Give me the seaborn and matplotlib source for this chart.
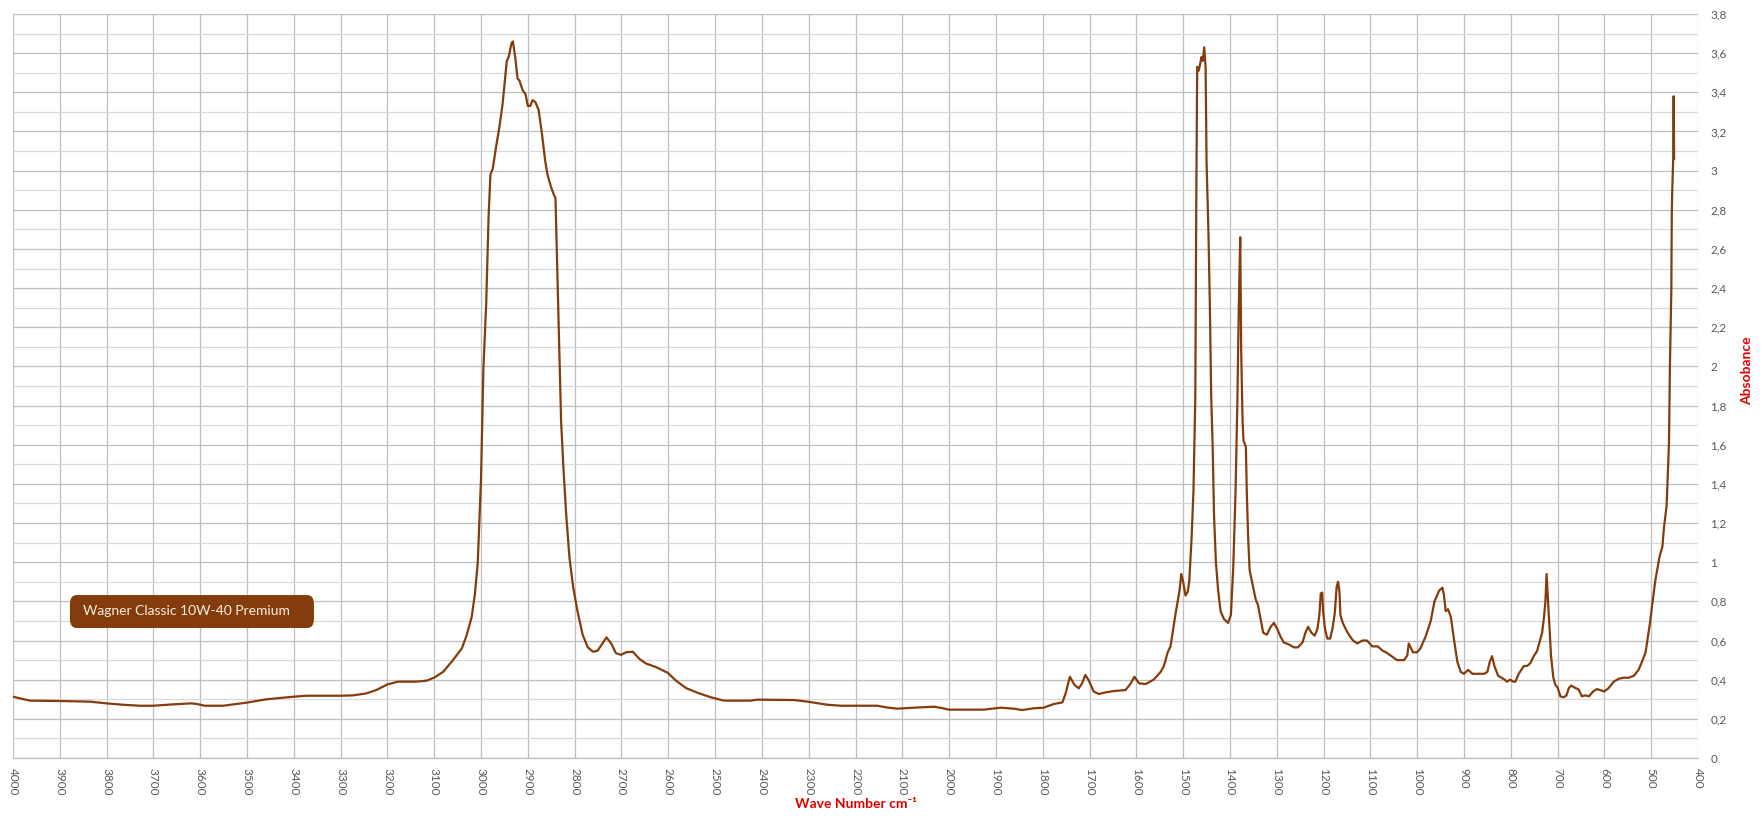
'''
IR absorbance spectrum of an engine oil, drawn Excel-style with seaborn.
'''

import numpy as np
import pandas as pd
import seaborn as sns
import matplotlib.pyplot as plt
from matplotlib.patches import FancyBboxPatch
from matplotlib.ticker import MultipleLocator, FuncFormatter

# Spectrum values (wave number in cm-1, absorbance)
wave_number = [
    4000, 3986, 3964, 3900, 3836, 3800, 3765, 3729, 3700, 3658, 3619, 3608,
    3590, 3551, 3500, 3458, 3401, 3373, 3301, 3273, 3245, 3224, 3200, 3177,
    3138, 3116, 3099, 3081, 3060, 3041, 3031, 3020, 3013, 3007, 3000, 2995,
    2989, 2984, 2980, 2975, 2968, 2961, 2954, 2945, 2941, 2935, 2932, 2927,
    2922, 2918, 2911, 2905, 2900, 2895, 2890, 2884, 2877, 2870, 2863, 2858,
    2851, 2845, 2841, 2838, 2834, 2829, 2824, 2818, 2811, 2803, 2794, 2783,
    2772, 2761, 2751, 2742, 2732, 2722, 2712, 2701, 2690, 2676, 2662, 2648,
    2626, 2601, 2584, 2562, 2534, 2509, 2481, 2424, 2410, 2331, 2303, 2260,
    2232, 2153, 2136, 2111, 2075, 2032, 2015, 2001, 1926, 1890, 1862, 1844,
    1819, 1798, 1776, 1758, 1751, 1742, 1732, 1723, 1716, 1709, 1702, 1691,
    1680, 1666, 1648, 1623, 1612, 1604, 1594, 1580, 1563, 1548, 1541, 1533,
    1527, 1516, 1508, 1504, 1500, 1495, 1490, 1487, 1482, 1478, 1474, 1472,
    1470, 1467, 1464, 1461, 1458, 1455, 1452, 1450, 1446, 1443, 1440, 1437,
    1434, 1430, 1425, 1420, 1413, 1404, 1398, 1393, 1388, 1384, 1381, 1378,
    1376, 1373, 1371, 1366, 1364, 1361, 1358, 1352, 1345, 1340, 1334, 1329,
    1321, 1313, 1306, 1299, 1292, 1285, 1274, 1263, 1255, 1245, 1238, 1233,
    1226, 1219, 1213, 1209, 1206, 1203, 1201, 1197, 1192, 1186, 1181, 1176,
    1172, 1169, 1166, 1164, 1159, 1153, 1146, 1137, 1128, 1117, 1107, 1096,
    1084, 1075, 1064, 1053, 1043, 1028, 1021, 1018, 1014, 1009, 1000, 993,
    982, 971, 963, 953, 946, 943, 939, 934, 928, 921, 914, 907,
    900, 891, 882, 857, 850, 845, 840, 835, 827, 813, 808, 801,
    795, 790, 783, 772, 765, 758, 751, 744, 737, 733, 729, 726,
    723.5, 719, 714, 709, 705, 700, 694, 687, 681, 676, 671, 664,
    655, 648, 641, 633, 624, 616, 607, 600, 591, 580, 569, 559,
    548, 537, 527, 520, 512, 507, 502, 498, 491, 482, 476, 473,
    467, 462, 460, 457, 456, 455, 453, 452, 451,
]
absorbance = [
    0.313, 0.305, 0.293, 0.291, 0.288, 0.279, 0.272, 0.267, 0.267, 0.274, 0.279, 0.276,
    0.267, 0.267, 0.283, 0.300, 0.313, 0.318, 0.318, 0.320, 0.330, 0.347, 0.376, 0.390,
    0.390, 0.395, 0.412, 0.440, 0.500, 0.560, 0.625, 0.720, 0.840, 1.000, 1.430, 1.990,
    2.320, 2.760, 2.980, 3.010, 3.120, 3.220, 3.340, 3.560, 3.580, 3.650, 3.660, 3.580,
    3.470, 3.460, 3.410, 3.390, 3.330, 3.330, 3.360, 3.350, 3.310, 3.190, 3.050, 2.980,
    2.920, 2.880, 2.860, 2.570, 2.200, 1.720, 1.480, 1.240, 1.020, 0.870, 0.750, 0.630,
    0.565, 0.543, 0.548, 0.580, 0.616, 0.585, 0.536, 0.527, 0.540, 0.543, 0.507, 0.483,
    0.464, 0.435, 0.396, 0.357, 0.330, 0.310, 0.293, 0.293, 0.298, 0.296, 0.288, 0.272,
    0.267, 0.267, 0.259, 0.252, 0.257, 0.262, 0.255, 0.247, 0.247, 0.257, 0.252, 0.245,
    0.254, 0.257, 0.276, 0.284, 0.330, 0.415, 0.373, 0.356, 0.381, 0.424, 0.398, 0.339,
    0.327, 0.335, 0.342, 0.347, 0.381, 0.415, 0.381, 0.378, 0.400, 0.440, 0.470, 0.540,
    0.570, 0.740, 0.850, 0.940, 0.900, 0.830, 0.850, 0.900, 1.120, 1.360, 1.840, 2.810,
    3.530, 3.510, 3.540, 3.580, 3.560, 3.630, 3.530, 3.050, 2.690, 2.320, 1.840, 1.600,
    1.240, 1.000, 0.850, 0.750, 0.710, 0.690, 0.730, 0.970, 1.360, 1.840, 2.320, 2.660,
    2.080, 1.720, 1.620, 1.590, 1.360, 1.120, 0.960, 0.890, 0.810, 0.780, 0.705, 0.640,
    0.630, 0.670, 0.690, 0.660, 0.620, 0.590, 0.580, 0.565, 0.565, 0.590, 0.645, 0.670,
    0.640, 0.625, 0.660, 0.730, 0.840, 0.845, 0.750, 0.660, 0.610, 0.610, 0.660, 0.740,
    0.875, 0.900, 0.850, 0.730, 0.690, 0.660, 0.630, 0.600, 0.585, 0.600, 0.600, 0.570,
    0.570, 0.550, 0.536, 0.517, 0.500, 0.500, 0.524, 0.585, 0.565, 0.540, 0.540, 0.560,
    0.620, 0.700, 0.800, 0.855, 0.870, 0.835, 0.750, 0.760, 0.720, 0.600, 0.490, 0.440,
    0.430, 0.450, 0.430, 0.430, 0.440, 0.490, 0.520, 0.470, 0.420, 0.400, 0.390, 0.400,
    0.390, 0.390, 0.430, 0.470, 0.470, 0.485, 0.520, 0.545, 0.605, 0.640, 0.720, 0.800,
    0.940, 0.740, 0.520, 0.410, 0.375, 0.360, 0.315, 0.310, 0.320, 0.357, 0.370, 0.360,
    0.350, 0.315, 0.320, 0.315, 0.340, 0.352, 0.345, 0.340, 0.357, 0.390, 0.405, 0.410,
    0.410, 0.420, 0.450, 0.490, 0.540, 0.620, 0.700, 0.780, 0.910, 1.030, 1.080, 1.170,
    1.290, 1.610, 2.000, 2.390, 2.780, 2.900, 3.060, 3.380, 3.060,
]
series_name = 'Wagner Classic 10W-40 Premium'
x_title = 'Wave Number cm\u207b\u00b9'
y_title = 'Absobance'

LINE_COLOR = '#843C0C'
LABEL_RED = '#E00000'
TICK_GREY = '#595959'

df = pd.DataFrame({'wn': wave_number, 'abs': absorbance})

sns.set_theme(style='white')
plt.rcParams['font.family'] = ['Lato', 'DejaVu Sans']

fig = plt.figure(figsize=(17.64, 8.21), dpi=100)
ax = fig.add_axes([13 / 1764, 1 - 758 / 821, 1685 / 1764, 744 / 821])

sns.lineplot(data=df, x='wn', y='abs', ax=ax, color=LINE_COLOR, linewidth=1.6,
             sort=False, estimator=None, zorder=3)

# Reversed wave number axis, absorbance axis on the right
ax.set_xlim(4000, 400)
ax.set_ylim(0, 3.8)
ax.xaxis.set_major_locator(MultipleLocator(100))
ax.yaxis.set_major_locator(MultipleLocator(0.2))
ax.yaxis.set_minor_locator(MultipleLocator(0.1))
ax.yaxis.tick_right()
ax.yaxis.set_major_formatter(FuncFormatter(
    lambda v, p: ('%g' % round(v, 1)).replace('.', ',')))

ax.grid(which='major', axis='both', color='#BFBFBF', linewidth=0.9)
ax.grid(which='minor', axis='y', color='#D9D9D9', linewidth=0.9)
ax.set_axisbelow(True)
for side in ax.spines:
    ax.spines[side].set_visible(False)
ax.spines['bottom'].set_visible(True)
ax.spines['bottom'].set_color('#BFBFBF')
ax.spines['bottom'].set_linewidth(0.9)

ax.tick_params(axis='x', which='both', length=0, pad=7, labelsize=8.5,
               labelcolor=TICK_GREY, labelrotation=270)
ax.tick_params(axis='y', which='both', length=0, pad=9, labelsize=8.5,
               labelcolor=TICK_GREY)
for lbl in ax.get_xticklabels():
    lbl.set_verticalalignment('top')
for lbl in ax.get_yticklabels():
    lbl.set_horizontalalignment('left')

ax.set_xlabel(x_title, color=LABEL_RED, fontsize=10, fontweight='bold')
ax.xaxis.set_label_coords(0.5, -0.054)
ax.yaxis.set_label_position('right')
ax.set_ylabel(y_title, color=LABEL_RED, fontsize=10, fontweight='bold',
              rotation=90, ha='center', va='center')
ax.yaxis.set_label_coords(1.029, 0.52)

# Series name tag in the lower left corner
tag = FancyBboxPatch((0.0338, 0.1747), 0.1448, 0.0443, transform=ax.transAxes,
                     boxstyle='round,pad=0,rounding_size=0.004',
                     facecolor=LINE_COLOR, edgecolor='none', zorder=4,
                     mutation_aspect=3)
ax.add_patch(tag)
ax.text(0.0415, 0.197, series_name, transform=ax.transAxes, color='#FBEFE3',
        fontsize=10, ha='left', va='center', zorder=5)

fig.savefig('out.png', dpi=100)
